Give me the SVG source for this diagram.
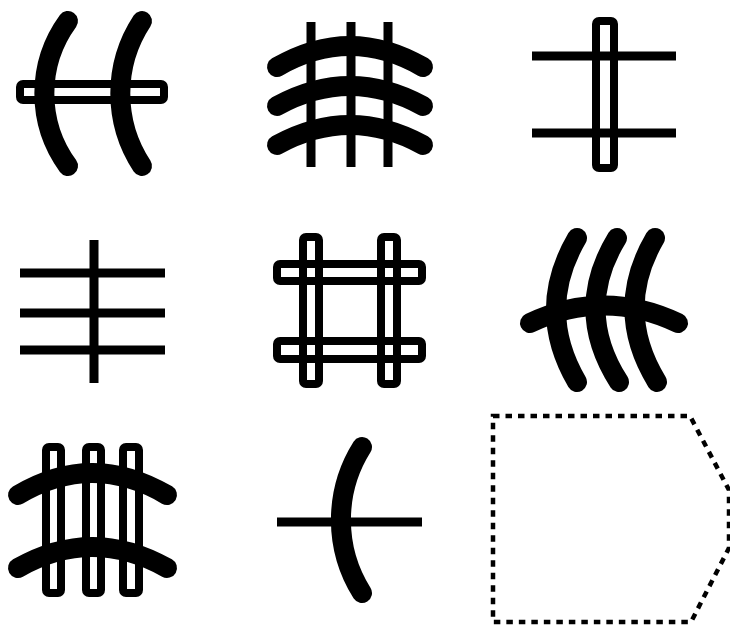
<svg xmlns="http://www.w3.org/2000/svg" width="730" height="628" viewBox="0 0 730 628">
<style>
.arc{fill:none;stroke:#000;stroke-width:20;stroke-linecap:round}
.bar{fill:none;stroke:#000;stroke-width:8}
.ln{stroke:#000;stroke-width:9;fill:none}
.dash{fill:none;stroke:#000;stroke-width:4.5;stroke-dasharray:6.5 6}
</style>
<rect width="730" height="628" fill="#fff"/>
<g id="fig1">
<rect class="bar" x="20" y="84" width="144" height="16" rx="3"/>
<path class="arc" d="M68,21 A123,123 0 0 0 68,166"/>
<path class="arc" d="M142,21 A132,132 0 0 0 142,166"/>
</g>
<g id="fig2">
<path class="ln" d="M311,22V167M351,22V167M388,22V167" stroke-width="8"/>
<path class="arc" d="M277,67 Q350,25 423,67"/>
<path class="arc" d="M277,106 Q350,66 423,106"/>
<path class="arc" d="M277,145 Q350,105 423,145"/>
</g>
<g id="fig3">
<rect class="bar" x="596" y="21" width="18" height="147" rx="3"/>
<path class="ln" d="M532,56H676M532,133H676" stroke-width="8"/>
</g>
<g id="fig4">
<path class="ln" d="M94,240V383M20,273H165M20,313H165M20,350H165"/>
</g>
<g id="fig5">
<rect class="bar" x="303" y="237" width="16" height="147" rx="3"/>
<rect class="bar" x="381" y="237" width="16" height="147" rx="3"/>
<rect class="bar" x="277" y="264" width="145" height="17" rx="3"/>
<rect class="bar" x="277" y="341" width="145" height="18" rx="3"/>
</g>
<g id="fig6">
<path class="arc" d="M577,238 Q535,310 577,382"/>
<path class="arc" d="M617,238 Q573,310 619,382"/>
<path class="arc" d="M655,238 Q613,310 657,382"/>
<path class="arc" d="M530,323 Q604,288 678,323"/>
</g>
<g id="fig7">
<rect class="bar" x="46" y="447" width="15" height="146" rx="3"/>
<rect class="bar" x="86" y="447" width="15" height="146" rx="3"/>
<rect class="bar" x="123" y="447" width="16" height="146" rx="3"/>
<path class="arc" d="M18,495 Q92,451 167,495"/>
<path class="arc" d="M18,568 Q92,526 167,568"/>
</g>
<g id="fig8">
<path class="ln" d="M277,522H422"/>
<path class="arc" d="M362,447 A137,137 0 0 0 362,593"/>
</g>
<g id="fig9">
<path class="dash" d="M493,416H690L729,490V548L691,622H493Z"/>
</g>
</svg>
